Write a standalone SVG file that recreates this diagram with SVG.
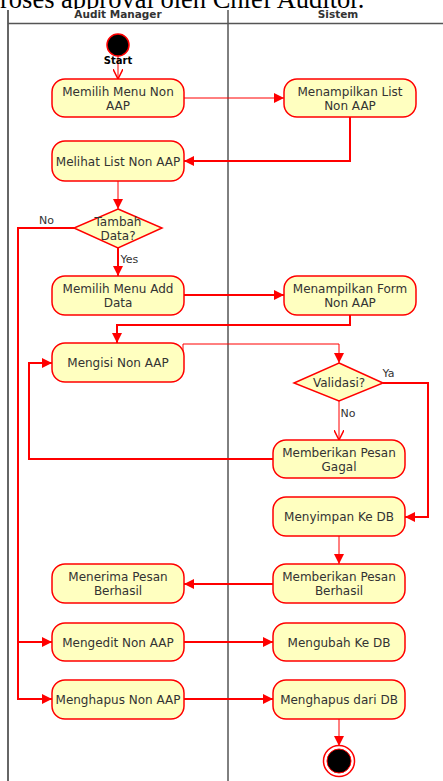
<svg xmlns="http://www.w3.org/2000/svg" width="443" height="781" viewBox="0 0 443 781">
<style>
.act{fill:#ffffc0;stroke:#ff0000;stroke-width:1.5}
.dec{fill:#ffffc0;stroke:#ff0000;stroke-width:1.5}
.t{font-family:"DejaVu Sans",Verdana,sans-serif;font-size:12px;fill:#333333;text-anchor:middle}
.lbl{font-family:"DejaVu Sans",Verdana,sans-serif;font-size:11px;fill:#333333}
.hdr{font-family:"DejaVu Sans",Verdana,sans-serif;font-size:10.5px;font-weight:bold;fill:#333333;text-anchor:middle}
.c1{fill:none;stroke:#ff0000;stroke-width:1}
.c2{fill:none;stroke:#ff0000;stroke-width:2}
</style>
<defs>
<marker id="af" viewBox="0 0 10 10" refX="10" refY="5" markerWidth="10" markerHeight="10" markerUnits="userSpaceOnUse" orient="auto">
<path d="M0,0 L10,5 L0,10 Z" fill="#ff0000"/>
</marker>
<marker id="ao" viewBox="0 0 10 10" refX="10" refY="5" markerWidth="10" markerHeight="10" markerUnits="userSpaceOnUse" orient="auto">
<path d="M0,0 L10,5 L0,10" fill="none" stroke="#ff0000" stroke-width="1.5"/>
</marker>
</defs>
<rect width="443" height="781" fill="#ffffff"/>
<text x="0" y="8.3" font-family="Liberation Serif, Times New Roman, serif" font-size="26.5" fill="#000000">roses approval oleh Chief Auditor.</text>
<rect x="0" y="9" width="443" height="772" fill="#ffffff"/>
<g id="pool">
<line x1="8" y1="10" x2="8" y2="781" stroke="#333333" stroke-width="1.5"/>
<line x1="228" y1="10" x2="228" y2="781" stroke="#000000" stroke-width="1"/>
<line x1="8" y1="23.5" x2="443" y2="23.5" stroke="#555555" stroke-width="1.5"/>
<text class="hdr" x="118" y="17.5">Audit Manager</text>
<text class="hdr" x="338" y="17.5">Sistem</text>
</g>
<g id="connectors">
<path class="c1" d="M118,56 L118,79" marker-end="url(#ao)"/>
<path class="c1" d="M184,98 L284,98" marker-end="url(#af)"/>
<path class="c2" d="M350,117 L350,161 L184,161" marker-end="url(#af)"/>
<path class="c1" d="M118,181 L118,209" marker-end="url(#af)"/>
<path class="c2" d="M74,228 L18,228 L18,699 L52,699" marker-end="url(#af)"/>
<path class="c2" d="M18,642 L52,642" marker-end="url(#af)"/>
<path class="c2" d="M118,248 L118,276" marker-end="url(#af)"/>
<path class="c2" d="M184,295 L284,295" marker-end="url(#af)"/>
<path class="c2" d="M350,315 L350,325 L117,325 L117,343" marker-end="url(#af)"/>
<path class="c1" d="M183,352 L183,344 L339,344 L339,363" marker-end="url(#af)"/>
<path class="c2" d="M383,383 L428,383 L428,517 L405,517" marker-end="url(#af)"/>
<path class="c1" d="M339,401 L339,440" marker-end="url(#ao)"/>
<path class="c2" d="M273,459 L29,459 L29,363 L52,363" marker-end="url(#af)"/>
<path class="c1" d="M339,536 L339,564" marker-end="url(#af)"/>
<path class="c2" d="M273,584 L184,584" marker-end="url(#af)"/>
<path class="c2" d="M184,642 L273,642" marker-end="url(#af)"/>
<path class="c2" d="M184,699 L273,699" marker-end="url(#af)"/>
<path class="c1" d="M339,719 L339,746" marker-end="url(#af)"/>
<text class="lbl" x="39" y="223.5">No</text>
<text class="lbl" x="120.5" y="263">Yes</text>
<text class="lbl" x="382.5" y="377">Ya</text>
<text class="lbl" x="340.5" y="417">No</text>
</g>
<g id="start">
<circle cx="118" cy="45" r="11" fill="#000000" stroke="#ff0000" stroke-width="1.5"/>
<text x="118" y="63.5" font-family="DejaVu Sans,Verdana,sans-serif" font-size="10" font-weight="bold" fill="#000000" text-anchor="middle">Start</text>
</g>
<g id="n1"><rect class="act" x="52" y="79" width="132" height="38" rx="13"/><text class="t" x="118" y="95.5">Memilih Menu Non</text><text class="t" x="118" y="109.5">AAP</text></g>
<g id="n2"><rect class="act" x="284" y="79" width="132" height="38" rx="13"/><text class="t" x="350" y="95.5">Menampilkan List</text><text class="t" x="350" y="109.5">Non AAP</text></g>
<g id="n3"><rect class="act" x="52" y="141" width="132" height="40" rx="13"/><text class="t" x="118" y="165.5">Melihat List Non AAP</text></g>
<g id="d1"><polygon class="dec" points="118,209 162,228 118,248 74,228"/><text class="t" x="118" y="226">Tambah</text><text class="t" x="118" y="240">Data?</text></g>
<g id="n5"><rect class="act" x="52" y="276" width="132" height="39" rx="13"/><text class="t" x="118" y="292.5">Memilih Menu Add</text><text class="t" x="118" y="306.5">Data</text></g>
<g id="n6"><rect class="act" x="284" y="276" width="132" height="39" rx="13"/><text class="t" x="350" y="292.5">Menampilkan Form</text><text class="t" x="350" y="306.5">Non AAP</text></g>
<g id="n7"><rect class="act" x="52" y="343" width="132" height="39" rx="13"/><text class="t" x="118" y="367">Mengisi Non AAP</text></g>
<g id="d2"><polygon class="dec" points="339,363 383,383 339,401 294,383"/><text class="t" x="339" y="387">Validasi?</text></g>
<g id="n9"><rect class="act" x="273" y="440" width="132" height="38" rx="13"/><text class="t" x="339" y="456.5">Memberikan Pesan</text><text class="t" x="339" y="470.5">Gagal</text></g>
<g id="n10"><rect class="act" x="273" y="497" width="132" height="39" rx="13"/><text class="t" x="339" y="521">Menyimpan Ke DB</text></g>
<g id="n11"><rect class="act" x="273" y="564" width="132" height="39" rx="13"/><text class="t" x="339" y="580.5">Memberikan Pesan</text><text class="t" x="339" y="594.5">Berhasil</text></g>
<g id="n12"><rect class="act" x="52" y="564" width="132" height="39" rx="13"/><text class="t" x="118" y="580.5">Menerima Pesan</text><text class="t" x="118" y="594.5">Berhasil</text></g>
<g id="n13"><rect class="act" x="52" y="623" width="132" height="38" rx="13"/><text class="t" x="118" y="646.5">Mengedit Non AAP</text></g>
<g id="n14"><rect class="act" x="273" y="623" width="132" height="38" rx="13"/><text class="t" x="339" y="646.5">Mengubah Ke DB</text></g>
<g id="n15"><rect class="act" x="52" y="680" width="132" height="39" rx="13"/><text class="t" x="118" y="704">Menghapus Non AAP</text></g>
<g id="n16"><rect class="act" x="273" y="680" width="132" height="39" rx="13"/><text class="t" x="339" y="704">Menghapus dari DB</text></g>
<g id="end">
<circle cx="339" cy="761" r="15.5" fill="#ffffff" stroke="#ff0000" stroke-width="1.5"/>
<circle cx="339" cy="761" r="12" fill="#000000" stroke="#ff0000" stroke-width="1"/>
</g>
</svg>
